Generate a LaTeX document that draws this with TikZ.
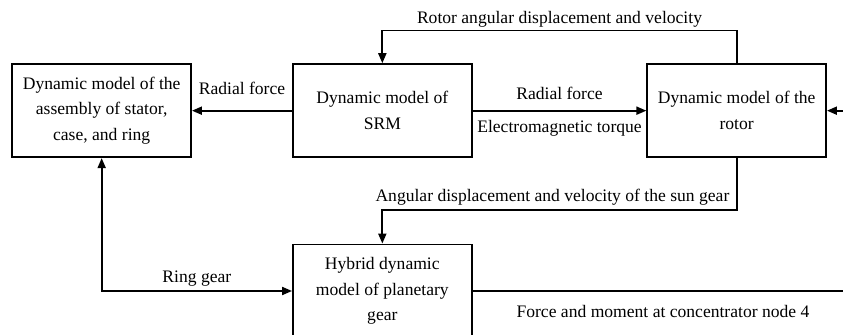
\documentclass[tikz,border=0pt]{standalone}
\usepackage{fontspec}
\setmainfont{Liberation Serif}
\usetikzlibrary{arrows.meta}

\begin{document}
\begin{tikzpicture}[>={Triangle[length=0.3cm,width=0.24cm]},line width=1.6pt,
  block/.style={draw,minimum width=5.36cm,minimum height=2.79cm,align=center,font=\fontsize{15}{22}\selectfont},
  lbl/.style={font=\fontsize{15}{18}\selectfont}]
  \useasboundingbox (0,0) rectangle (25.29,-10.05);

  % model blocks
  \node[block] (asm)   at (3.05,-3.32)  {Dynamic model of the\\assembly of stator,\\case, and ring};
  \node[block] (srm)   at (11.47,-3.32) {Dynamic model of\\SRM};
  \node[block] (rotor) at (22.10,-3.32) {Dynamic model of the\\rotor};
  \node[block] (pgear) at (11.47,-8.73) {Hybrid dynamic\\model of planetary\\gear};
  \coordinate (rin)  at (25.6,-3.32);
  \coordinate (rout) at (25.6,-8.73);

  % couplings
  \draw[->] (srm.west) -- node[lbl,above=0.32cm]{Radial force} (asm.east);
  \draw[->] (srm.east) -- node[lbl,above=0.18cm]{Radial force}
                          node[lbl,below=0.15cm]{Electromagnetic torque} (rotor.west);
  \draw[->] (rotor.north) -- ++(0,0.98) -| node[lbl,pos=0.25,above=-0.06cm]{Rotor angular displacement and velocity} (srm.north);
  \draw[->] (rotor.south) -- ++(0,-1.56) -| node[lbl,pos=0.26,above]{Angular displacement and velocity of the sun gear} (pgear.north);
  \draw[<->] (asm.south) |- node[lbl,pos=0.75,above]{Ring gear} (pgear.west);
  \draw[->] (rin) -- (rotor.east);
  \draw (pgear.east) -- node[lbl,below=0.27cm]{Force and moment at concentrator node 4} (rout);
\end{tikzpicture}
\end{document}
